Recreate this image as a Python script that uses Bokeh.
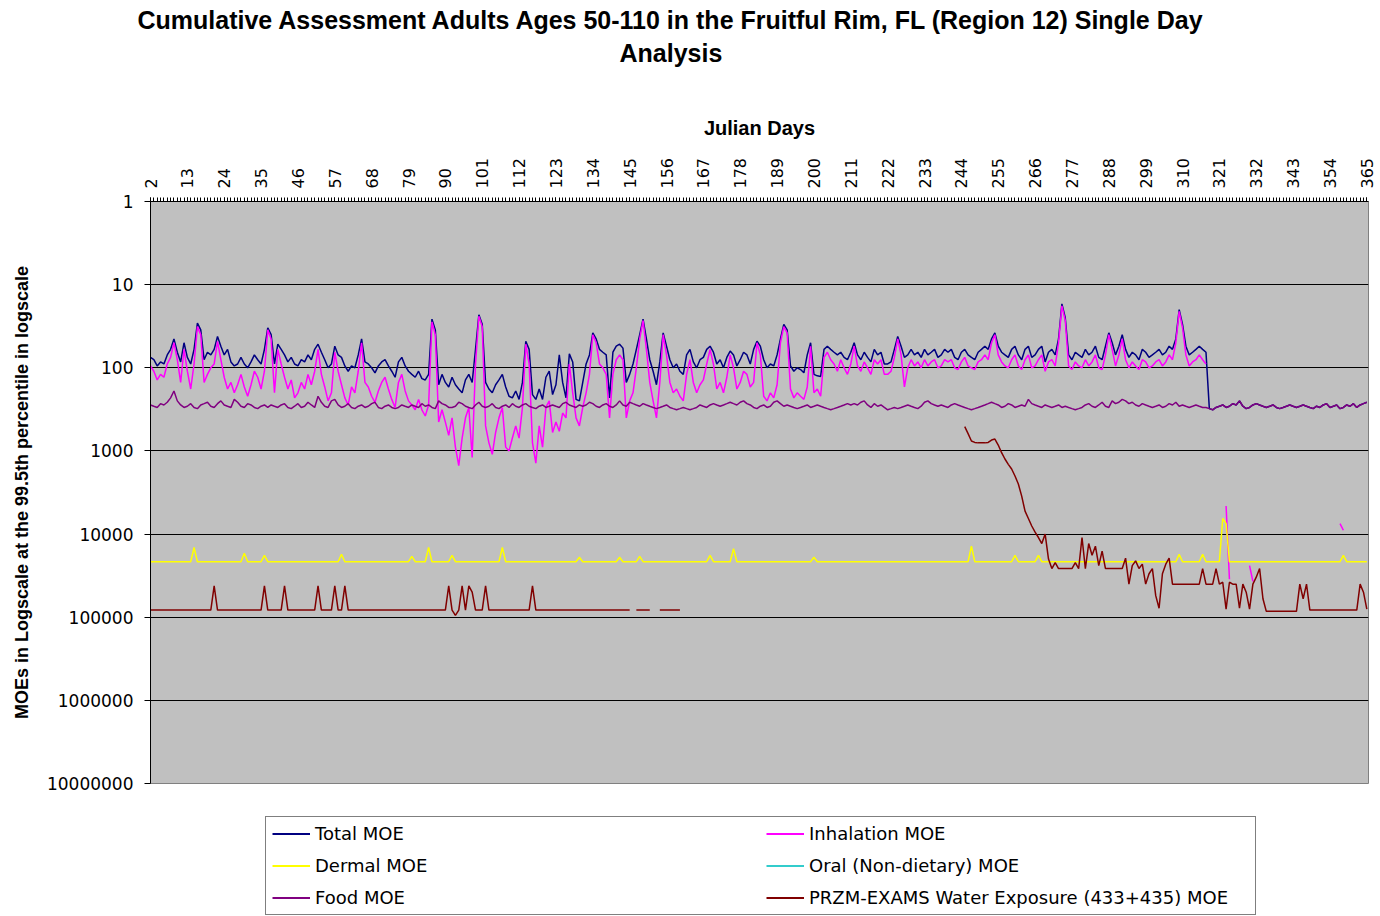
import math
import numpy as np
from bokeh.plotting import figure
from bokeh.layouts import column
from bokeh.models import (Range1d, FixedTicker, NumeralTickFormatter, Legend,
                          LegendItem, Title, ColumnDataSource)
from bokeh.embed import file_html
from bokeh.resources import INLINE

# ---------------- data ----------------
days = list(range(2, 366))                      # Julian days on the category axis
label_days = [2, 13, 24, 35, 46, 57, 68, 79, 90, 101, 112, 123, 134, 145, 156, 167,
              178, 189, 200, 211, 222, 233, 244, 255, 266, 277, 288, 299, 310, 321,
              332, 343, 354, 365]
y_ticks = [1, 10, 100, 1000, 10000, 100000, 1000000, 10000000]

# Total MOE, days 2-317 (afterwards it coincides with the food MOE)
total_head = [
    75, 80, 95, 85, 90, 70, 60, 45, 65, 85,
    50, 75, 90, 60, 29, 35, 80, 65, 70, 60,
    42, 55, 70, 60, 85, 95, 90, 75, 90, 100,
    85, 70, 80, 90, 60, 33, 40, 90, 52, 60,
    70, 85, 75, 90, 95, 80, 85, 70, 80, 60,
    52, 65, 80, 100, 90, 55, 70, 75, 95, 110,
    95, 100, 70, 45, 85, 90, 100, 115, 95, 85,
    80, 95, 110, 130, 85, 75, 95, 110, 120, 130,
    110, 135, 140, 120, 26, 35, 160, 120, 150, 170,
    130, 160, 180, 200, 140, 120, 150, 60, 23, 30,
    150, 180, 200, 160, 140, 120, 170, 220, 230, 190,
    240, 150, 48, 60, 210, 240, 180, 240, 130, 110,
    210, 160, 70, 150, 230, 68, 85, 240, 250, 150,
    90, 70, 38, 45, 60, 65, 70, 230, 65, 55,
    52, 58, 150, 120, 90, 60, 40, 26, 45, 80,
    110, 160, 85, 38, 55, 80, 100, 90, 110, 120,
    70, 60, 85, 100, 80, 75, 60, 55, 65, 90,
    80, 100, 75, 63, 70, 95, 80, 65, 70, 90,
    60, 48, 55, 80, 100, 90, 95, 70, 45, 30,
    35, 95, 110, 100, 105, 115, 70, 50, 120, 125,
    127, 60, 55, 60, 65, 70, 65, 75, 80, 65,
    50, 70, 80, 65, 75, 85, 60, 70, 65, 90,
    90, 85, 60, 42, 55, 75, 70, 60, 70, 65,
    75, 60, 70, 65, 60, 75, 70, 60, 65, 60,
    75, 80, 65, 60, 70, 75, 80, 65, 60, 55,
    60, 45, 38, 55, 65, 70, 75, 60, 55, 70,
    80, 60, 55, 75, 70, 60, 55, 85, 65, 60,
    70, 45, 17, 25, 70, 80, 65, 70, 75, 60,
    70, 65, 55, 75, 80, 55, 38, 50, 70, 55,
    40, 60, 75, 65, 70, 80, 60, 65, 75, 70,
    65, 60, 70, 65, 55, 60, 45, 20, 30, 55,
    70, 65, 60, 55, 60, 65,
]

inhalation_moe = [
    95, 110, 140, 120, 130, 90, 75, 50, 80, 150,
    60, 110, 180, 90, 32, 40, 150, 120, 100, 90,
    48, 80, 130, 180, 150, 200, 160, 120, 170, 220,
    160, 110, 130, 180, 110, 35, 45, 200, 60, 90,
    130, 180, 140, 230, 200, 150, 180, 120, 160, 110,
    60, 120, 170, 250, 200, 65, 110, 160, 230, 280,
    170, 200, 110, 50, 150, 170, 220, 260, 190, 150,
    130, 180, 240, 300, 150, 120, 190, 250, 280, 320,
    240, 320, 380, 280, 28, 40, 450, 320, 450, 650,
    400, 900, 1500, 700, 400, 300, 1200, 90, 24, 32,
    500, 800, 1100, 600, 400, 300, 900, 1000, 700, 500,
    700, 300, 52, 90, 800, 1400, 500, 900, 300, 250,
    600, 450, 580, 350, 400, 90, 200, 400, 500, 300,
    200, 120, 40, 50, 90, 100, 120, 400, 120, 80,
    70, 80, 400, 250, 200, 100, 45, 27, 60, 150,
    250, 400, 150, 40, 70, 150, 200, 180, 220, 250,
    120, 80, 150, 200, 160, 140, 90, 60, 90, 180,
    150, 200, 130, 70, 100, 180, 150, 110, 120, 170,
    150, 50, 70, 220, 250, 200, 230, 160, 50, 32,
    38, 180, 230, 200, 220, 240, 170, 55, 200, 180,
    220, 75, 65, 80, 90, 110, 80, 100, 120, 90,
    55, 95, 110, 85, 100, 120, 80, 90, 80, 120,
    120, 110, 75, 45, 70, 170, 100, 80, 95, 85,
    100, 80, 95, 85, 80, 100, 95, 80, 85, 80,
    100, 105, 85, 75, 95, 100, 105, 85, 80, 70,
    80, 50, 40, 70, 85, 95, 100, 80, 70, 95,
    105, 80, 70, 100, 95, 80, 70, 110, 85, 80,
    95, 50, 18, 27, 95, 105, 85, 95, 100, 80,
    95, 85, 70, 100, 105, 70, 40, 60, 95, 70,
    45, 80, 100, 85, 95, 105, 80, 85, 100, 95,
    85, 80, 95, 85, 70, 80, 50, 21, 33, 70,
    95, 85, 80, 70, 80, 90,
    # days 318-365: only a few points fall inside the plotted range
    None, None, None, None, None, 4600, 35000, None, None, None, None, None,
    24000, 37000] + [None] * 25 + [7500, 9000] + [None] * 7

food_moe = [
    280, 290, 300, 270, 280, 260, 230, 190, 250, 280,
    300, 290, 270, 300, 310, 280, 270, 260, 290, 300,
    270, 250, 280, 290, 300, 240, 260, 290, 300, 270,
    280, 300, 310, 290, 280, 300, 280, 290, 300, 280,
    270, 300, 310, 290, 270, 300, 290, 260, 280, 300,
    220, 260, 290, 300, 250, 240, 280, 300, 290, 270,
    300, 310, 290, 280, 300, 290, 270, 260, 300, 310,
    290, 280, 300, 310, 300, 280, 290, 300, 280, 290,
    300, 270, 290, 280, 300, 310, 250, 270, 280, 300,
    300, 290, 260, 270, 290, 300, 310, 280, 260, 290,
    300, 290, 270, 300, 310, 290, 280, 300, 270, 290,
    300, 280, 270, 290, 300, 310, 290, 280, 300, 290,
    280, 290, 300, 270, 260, 280, 290, 300, 280, 290,
    280, 260, 270, 290, 300, 280, 270, 290, 300, 280,
    250, 280, 290, 260, 270, 280, 290, 270, 280, 290,
    300, 310, 300, 290, 280, 300, 310, 320, 310, 300,
    310, 320, 310, 300, 280, 290, 300, 280, 270, 280,
    290, 280, 270, 260, 270, 280, 260, 250, 270, 280,
    300, 310, 290, 280, 300, 290, 260, 250, 270, 290,
    280, 290, 300, 310, 300, 290, 280, 300, 290, 280,
    290, 300, 310, 320, 310, 300, 290, 280, 270, 280,
    270, 280, 260, 250, 280, 300, 270, 290, 280, 300,
    320, 310, 300, 310, 300, 290, 280, 290, 300, 310,
    290, 260, 250, 270, 280, 290, 280, 290, 300, 280,
    270, 280, 290, 300, 310, 320, 310, 300, 290, 280,
    270, 260, 270, 280, 300, 290, 270, 280, 300, 290,
    280, 290, 240, 270, 280, 290, 300, 280, 290, 300,
    290, 280, 300, 290, 300, 310, 320, 310, 300, 280,
    270, 290, 300, 280, 260, 290, 300, 250, 270, 260,
    240, 250, 270, 260, 280, 290, 270, 280, 290, 300,
    290, 280, 300, 290, 270, 280, 260, 290, 280, 290,
    300, 290, 280, 290, 300, 300, 310, 320, 300, 290,
    280, 300, 290, 270, 280, 250, 290, 310, 300, 280,
    270, 280, 290, 300, 290, 280, 300, 310, 300, 290,
    280, 290, 300, 290, 280, 290, 300, 310, 290, 300,
    280, 270, 300, 290, 280, 310, 300, 280, 290, 270,
    300, 280, 270, 260,
]

total_moe = total_head + food_moe[316:]

dermal_moe = ([21500] * 13 + [14500] + [21500] * 14 + [17000] + [21500] * 5 +
              [18000] + [21500] * 22 + [17500] + [21500] * 20 + [18500] +
              [21500] * 4 + [14500] + [21500] * 6 + [18000] + [21500] * 14 +
              [14500] + [21500] * 22 + [19000] + [21500] * 11 + [19000] +
              [21500] * 5 + [18500] + [21500] * 20 + [18000] + [21500] * 6 +
              [15000] + [21500] * 23 + [19000] + [21500] * 46 + [14000] +
              [21500] * 12 + [18000] + [21500] * 6 + [18000] + [21500] * 41 +
              [17500] + [21500] * 6 + [17500] + [21500] * 5 + [6500, 7500] +
              [21500] * 34 + [18000] + [21500] * 7)

oral_moe = [None] * 364   # no Oral (non-dietary) value falls inside the plotted range

water_moe = ([82000] * 19 + [42000] + [82000] * 14 + [42000] + [82000] * 5 +
             [42000] + [82000] * 9 + [42000] + [82000] * 4 + [42000] +
             [82000] * 2 + [42000] + [82000] * 30 +
             [42000, 82000, 95000, 82000, 42000, 82000, 42000, 50000, 82000,
              82000, 82000, 42000] +
             [82000] * 13 + [42000] + [82000] * 29 +
             [None] + [82000] * 5 + [None] * 2 + [82000] * 7 + [None] * 84 +
             [510, 620, 760, 790, 800, 800, 800, 790, 740, 720,
              850, 1050, 1250, 1450, 1650, 2000, 2500, 3500, 5300, 6500,
              8000, 9500, 11000, 13000, 10000, 20000, 26000, 22000, 26000, 26000,
              26000, 26000, 26000, 22000, 26000, 11000, 26000, 13000, 18000, 14000,
              24000, 16000, 26000, 26000, 26000, 26000, 26000, 26000, 19500, 40000,
              24000, 21000, 26000, 23000, 40000, 30000, 26000, 55000, 78000, 30000,
              23000, 19500, 40000, 40000, 40000, 40000, 40000, 40000, 40000, 40000,
              40000, 26000, 40000, 40000, 40000, 26000, 40000, 38000, 80000, 38000,
              40000, 40000, 78000, 40000, 50000, 80000, 40000, 33000, 26000, 60000,
              85000, 85000, 85000, 85000, 85000, 85000, 85000, 85000, 85000, 85000,
              40000, 60000, 40000, 82000, 82000, 82000, 82000, 82000, 82000, 82000,
              82000, 82000, 82000, 82000, 82000, 82000, 82000, 82000, 40000, 50000,
              80000])

series_names = ["Total MOE", "Inhalation MOE", "Dermal MOE", "Oral (Non-dietary) MOE",
                "Food MOE", "PRZM-EXAMS Water Exposure (433+435) MOE"]
series_colors = ["#000080", "#FF00FF", "#FFFF00", "#33CCCC", "#800080", "#800000"]
series_values = [total_moe, inhalation_moe, dermal_moe, oral_moe, food_moe, water_moe]

# ---------------- main chart ----------------
fig = figure(frame_width=1218, frame_height=582, y_axis_type="log",
             x_range=Range1d(2, 365.5), y_range=Range1d(1e7, 1),
             x_axis_location="above", output_backend="svg", toolbar_location=None,
             title=None, min_border_left=150, min_border_right=8,
             min_border_top=0, min_border_bottom=32,
             background_fill_color="#C0C0C0", border_fill_color="white")
fig.outline_line_color = "#808080"


def arr(v):
    return np.array([np.nan if a is None else a for a in v], dtype=float)


sources = []
for vals, col in zip(series_values, series_colors):
    src = ColumnDataSource(dict(x=np.array(days, dtype=float), y=arr(vals)))
    sources.append(src)
    fig.line("x", "y", source=src, line_color=col, line_width=1.5)

# axes
xa = fig.xaxis[0]
xa.ticker = FixedTicker(ticks=label_days, minor_ticks=days)
xa.major_label_orientation = math.pi / 2
xa.major_tick_out = 4
xa.major_tick_in = 0
xa.minor_tick_out = 4
xa.minor_tick_in = 0
xa.major_tick_line_color = "black"
xa.minor_tick_line_color = "black"
xa.major_label_standoff = 9
xa.major_label_text_font = "DejaVu Sans"
xa.major_label_text_font_size = "16px"
xa.major_label_text_color = "black"
xa.axis_label = "Julian Days"
xa.axis_label_text_font = "Liberation Sans"
xa.axis_label_text_font_style = "bold"
xa.axis_label_text_font_size = "20px"
xa.axis_label_text_color = "black"
xa.axis_label_standoff = 16
xa.axis_line_color = "black"

ya = fig.yaxis[0]
ya.ticker = FixedTicker(ticks=y_ticks, minor_ticks=[])
ya.formatter = NumeralTickFormatter(format="0")
ya.major_tick_out = 6
ya.major_tick_in = 0
ya.minor_tick_out = 0
ya.minor_tick_in = 0
ya.major_tick_line_color = "black"
ya.major_label_standoff = 11
ya.major_label_text_font = "DejaVu Sans"
ya.major_label_text_font_size = "17px"
ya.major_label_text_color = "black"
ya.axis_label = "MOEs in Logscale at the 99.5th percentile in logscale"
ya.axis_label_text_font = "Liberation Sans"
ya.axis_label_text_font_style = "bold"
ya.axis_label_text_font_size = "18px"
ya.axis_label_text_color = "black"
ya.axis_label_standoff = 12
ya.axis_line_color = "black"

fig.xgrid.visible = False
fig.ygrid.ticker = FixedTicker(ticks=y_ticks, minor_ticks=[])
fig.ygrid.grid_line_color = "black"
fig.ygrid.grid_line_width = 1.2

# blank spacer between "Julian Days" and the title
fig.add_layout(Title(text=" ", standoff=43, text_font_size="2px", text_color="white"), "above")

# titles (stacked outward: second line, then first line)
fig.add_layout(Title(text="Analysis", align="left", offset=469, standoff=0,
                     text_font="Liberation Sans", text_font_size="25px",
                     text_font_style="bold", text_color="black"), "above")
fig.add_layout(Title(text="Cumulative Assessment Adults Ages 50-110 in the Fruitful Rim, FL (Region 12) Single Day",
                     align="left", offset=-13, standoff=6,
                     text_font="Liberation Sans", text_font_size="25px",
                     text_font_style="bold", text_color="black"), "above")

# ---------------- legend box (below the chart) ----------------
leg = figure(frame_width=1218, frame_height=101, output_backend="svg", toolbar_location=None,
             title=None, x_axis_location=None, y_axis_location=None,
             x_range=Range1d(0, 1), y_range=Range1d(0, 1),
             min_border_left=150, min_border_right=8, min_border_top=0,
             min_border_bottom=0, background_fill_color="white",
             border_fill_color="white")
leg.outline_line_color = None
leg.xgrid.visible = False
leg.ygrid.visible = False
# same series sources; the legend panel's range shows none of their points
leg_renderers = [leg.line("x", "y", source=s, line_color=c, line_width=2)
                 for s, c in zip(sources, series_colors)]
legend = Legend(items=[LegendItem(label=n, renderers=[r]) for n, r in zip(series_names, leg_renderers)],
                location=(115, 1), orientation="horizontal", ncols=2,
                label_width=440, glyph_width=38, glyph_height=21, label_height=21,
                label_standoff=5, spacing=11, padding=6, margin=0,
                border_line_color="black", border_line_width=1,
                background_fill_color="white", background_fill_alpha=1,
                label_text_font="DejaVu Sans", label_text_font_size="18px",
                label_text_color="black")
leg.add_layout(legend)

p = column(fig, leg, spacing=0)

open("out.html", "w").write(file_html(p, INLINE))
